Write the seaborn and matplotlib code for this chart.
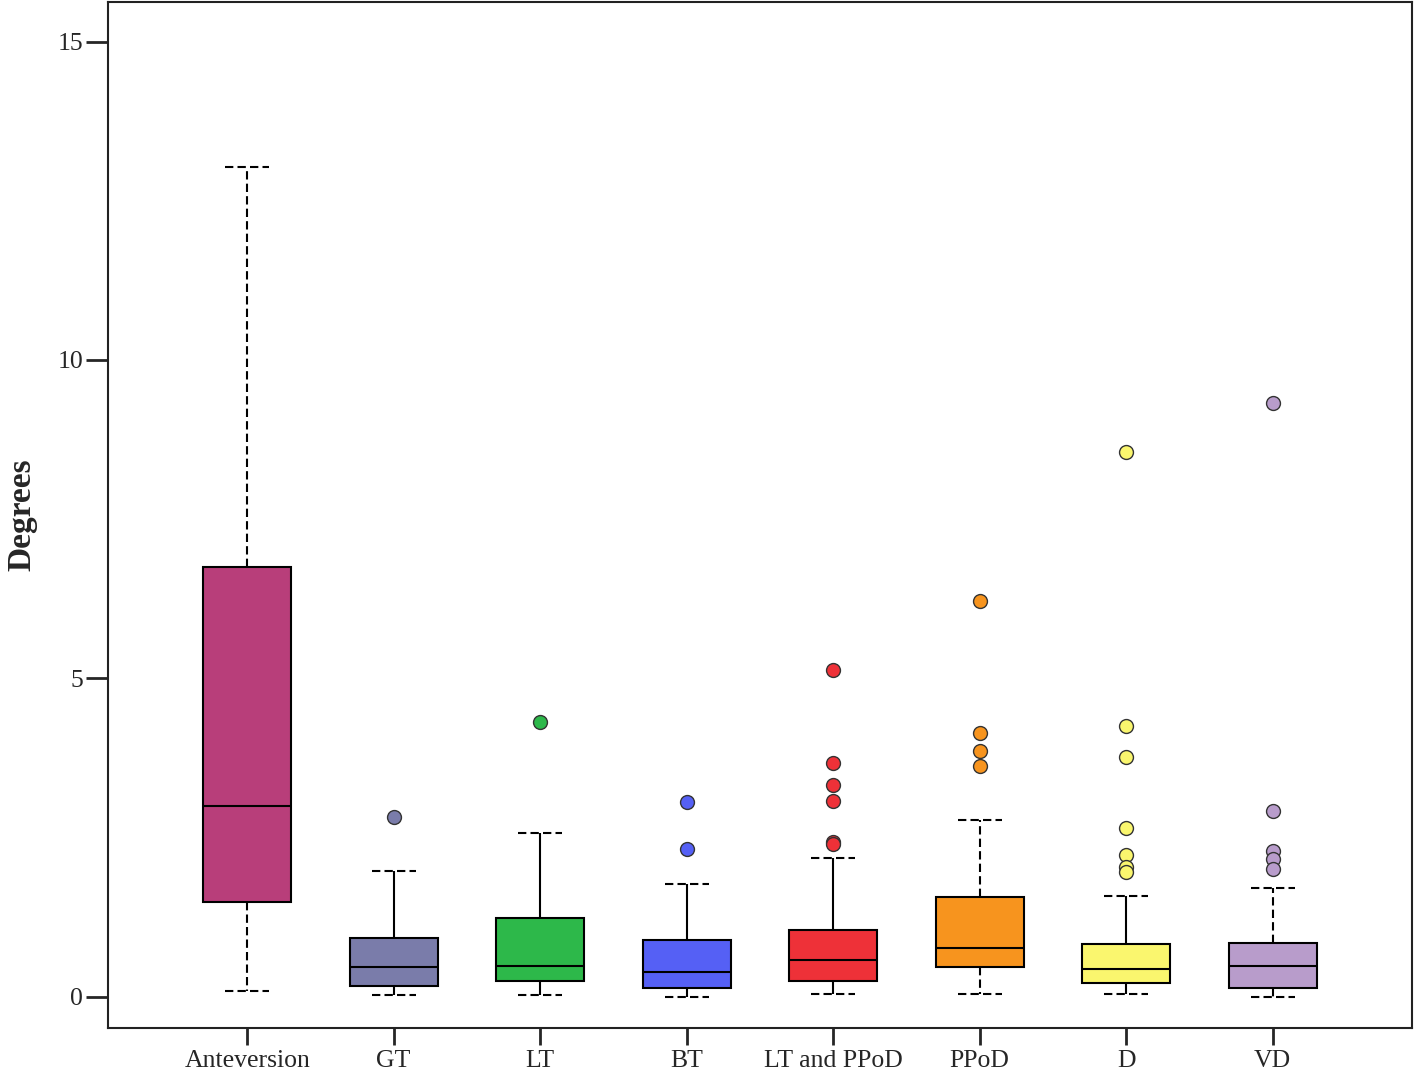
import numpy as np
import pandas as pd
import matplotlib
matplotlib.use("Agg")
import matplotlib.pyplot as plt
import seaborn as sns

categories = ['Anteversion', 'GT', 'LT', 'BT', 'LT and PPoD', 'PPoD', 'D', 'VD']
colors = ['#B83E7A', '#7A7CAA', '#2DB84A', '#5560F5', '#EE3138', '#F7941E', '#FAF66E', '#B89CCB']

# summaries: lower whisker, Q1, median, Q3, upper whisker
low = [0.09, 0.02, 0.02, 0.0, 0.05, 0.05, 0.05, 0.0]
q1 = [1.49, 0.17, 0.24, 0.13, 0.25, 0.46, 0.22, 0.14]
median = [3.0, 0.46, 0.49, 0.39, 0.57, 0.77, 0.44, 0.49]
q3 = [6.75, 0.93, 1.24, 0.89, 1.05, 1.57, 0.83, 0.85]
high = [13.03, 1.98, 2.57, 1.77, 2.18, 2.78, 1.59, 1.71]
outliers = [
    [],
    [2.83],
    [4.32],
    [3.06, 2.32],
    [5.13, 3.67, 3.33, 3.08, 2.43, 2.40],
    [6.22, 4.14, 3.86, 3.63],
    [8.56, 4.25, 3.77, 2.65, 2.23, 2.03, 1.96],
    [9.33, 2.92, 2.29, 2.17, 2.01],
]
dashed_whiskers = [True, False, False, False, False, True, False, True]

# build a sample per group that reproduces the read quartiles
rows = []
for i, cat in enumerate(categories):
    vals = [low[i]] + [q1[i]] * 40 + [median[i]] * 40 + [q3[i]] * 40 + [high[i]] + outliers[i]
    for v in vals:
        rows.append((cat, v))
df = pd.DataFrame(rows, columns=['group', 'value'])

sns.set_style('ticks')
plt.rcParams['font.family'] = ['Liberation Serif', 'DejaVu Serif']

fig = plt.figure(figsize=(14.16, 10.70), dpi=100)
ax = fig.add_axes([0.0763, 0.0393, 0.9207, 0.9587])

sns.boxplot(data=df, x='group', y='value', hue='group', order=categories,
            hue_order=categories, palette=colors, saturation=1, legend=False,
            width=0.6, linecolor='black', linewidth=1.5, whis=1.5,
            flierprops=dict(marker='o', markersize=10, markeredgecolor='#333333',
                            markeredgewidth=1.0),
            ax=ax)

for i, cont in enumerate(ax.containers):
    for fl in cont.fliers:
        fl.set_markerfacecolor(colors[i])
    for w in cont.whiskers:
        w.set_linestyle((0, (4, 2)) if dashed_whiskers[i] else '-')
        w.set_color('black')
        w.set_linewidth(1.5)
    for c in cont.caps:
        c.set_linestyle((0, (4, 2)))
        c.set_color('black')
        c.set_linewidth(1.5)
    for m in cont.medians:
        m.set_color('black')
        m.set_linewidth(1.5)

ax.set_xlim(-0.95, 7.95)
ax.set_ylim(-0.49, 15.62)
ax.set_yticks([0, 5, 10, 15])
ax.set_yticklabels(['0', '5', '10', '15'])
ax.set_xlabel('')
ax.set_ylabel('Degrees', fontsize=24, fontweight='bold', labelpad=14)
ax.tick_params(axis='y', length=16, width=2, labelsize=18.5, pad=2)
ax.tick_params(axis='x', length=12, width=2, labelsize=18.5, pad=4)
for s in ax.spines.values():
    s.set_visible(True)
    s.set_linewidth(1.5)
    s.set_color('#222222')

fig.savefig('out.png', dpi=100)
